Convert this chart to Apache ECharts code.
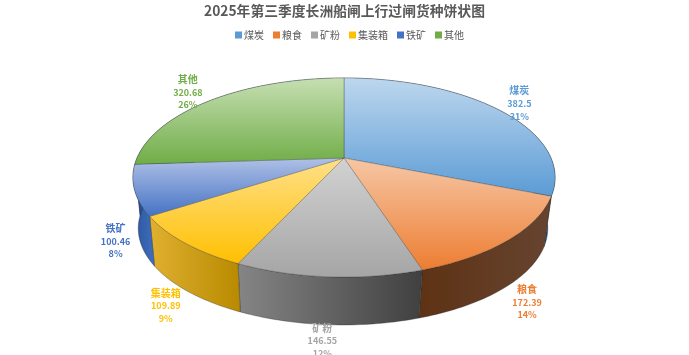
<!DOCTYPE html>
<html>
<head>
<meta charset="utf-8">
<style>html,body{margin:0;padding:0;background:#fff}#main{width:689px;height:355px}</style>
<script src="https://cdn.jsdelivr.net/npm/echarts@6/dist/echarts.min.js"></script>
</head>
<body>
<div id="main"></div>
<script>
const categories = ["煤炭", "粮食", "矿粉", "集装箱", "铁矿", "其他"];
const values = [382.5, 172.39, 146.55, 109.89, 100.46, 320.68];
const percentLabels = ["31%", "14%", "12%", "9%", "8%", "26%"];
const valueLabels = ["382.5", "172.39", "146.55", "109.89", "100.46", "320.68"];

const baseColors = ["#5b9bd5", "#ed7d31", "#a5a5a5", "#ffc000", "#4472c4", "#70ad47"];
const lightColors = ["#bdd7ee", "#f6c7a6", "#d2d2d2", "#ffe08a", "#b0c1e6", "#c6dfb2"];
const wallLeft = ["#2f5f8c", "#5e3214", "#858585", "#e0b030", "#2a5299", "#2a5299"];
const wallRight = ["#1f4e79", "#664430", "#404040", "#b88a00", "#4070c0", "#2a5299"];
const labelOffset = [[21, -6], [18, 63], [-6, 64], [-19, 63], [-19, 51], [-23, -8]];

// fake 3d: the circle goes through a perspective divide, bottom rim is a bit smaller
const cx = 344, cy = 158, R = 207, A = 95.7, K = 0.196, DEPTH = 51.5, SHRINK = 0.97;
const BOTTOM_CX = 343;
const RAD = Math.PI / 180;

function project(deg, bottom) {
  const x = Math.sin(deg * RAD), y = Math.cos(deg * RAD);
  const w = 1 + K * y;
  const px = R * x / w, py = -A * y / w;
  return bottom ? [BOTTOM_CX + SHRINK * px, cy + DEPTH + SHRINK * py] : [cx + px, cy + py];
}

function arc(from, to, bottom) {
  const pts = [];
  for (let d = from; d < to; d += 1) pts.push(project(d, bottom));
  pts.push(project(to, bottom));
  return pts;
}

const total = values.reduce((a, b) => a + b, 0);
const angles = [];
let sum = 0;
for (let i = 0; i < values.length; i++) {
  const start = sum / total * 360;
  sum += values[i];
  angles.push([start, sum / total * 360]);
}

function gradient(x2, y2, c0, c1) {
  return new echarts.graphic.LinearGradient(0, 0, x2, y2, [
    { offset: 0, color: c0 },
    { offset: 1, color: c1 },
  ]);
}

const series = [];

series.push({
  name: "side",
  type: "custom",
  coordinateSystem: "none",
  silent: true,
  z: 2,
  data: angles,
  renderItem: function (params, api) {
    const i = params.dataIndex;
    const from = api.value(0), to = api.value(1);
    const top = arc(from, to, false);
    const bot = arc(from, to, true).reverse();
    return {
      type: "polygon",
      shape: { points: top.concat(bot) },
      style: {
        fill: gradient(1, 0, wallLeft[i], wallRight[i]),
        stroke: "rgba(30,30,30,0.55)",
        lineWidth: 0.6,
      },
    };
  },
});

categories.forEach(function (name, i) {
  series.push({
    name: name,
    type: "custom",
    coordinateSystem: "none",
    z: 3,
    silent: true,
    itemStyle: { color: baseColors[i] },
    data: [angles[i]],
    renderItem: function (params, api) {
      const from = api.value(0), to = api.value(1);
      const pts = [[cx, cy]].concat(arc(from, to, false));
      const mid = project((from + to) / 2, false);
      const lx = mid[0] + labelOffset[i][0], ly = mid[1] + labelOffset[i][1];
      const text = function (str, y, size) {
        return {
          type: "text",
          x: lx,
          y: y,
          z2: 20,
          style: {
            text: str,
            fill: baseColors[i],
            font: "bold " + size + "px 'Noto Sans CJK SC', 'Noto Sans', sans-serif",
            align: "center",
            verticalAlign: "middle",
          },
        };
      };
      return {
        type: "group",
        children: [
          {
            type: "polygon",
            shape: { points: pts },
            style: {
              fill: gradient(0, 1, lightColors[i], baseColors[i]),
              stroke: "rgba(50,50,50,0.5)",
              lineWidth: 0.6,
            },
          },
          text(name, ly - 13, 10),
          text(valueLabels[i], ly, 9),
          text(percentLabels[i], ly + 12.5, 9),
        ],
      };
    },
  });
});

const chart = echarts.init(document.getElementById("main"), null, { renderer: "canvas" });
chart.setOption({
  animation: false,
  backgroundColor: "#fff",
  title: {
    text: "2025年第三季度长洲船闸上行过闸货种饼状图",
    left: "center",
    top: -1,
    textStyle: {
      color: "#595959",
      fontSize: 13.8,
      fontWeight: "bold",
      fontFamily: "'Noto Sans CJK SC', sans-serif",
    },
  },
  legend: {
    data: categories,
    left: 230,
    top: 25,
    icon: "rect",
    itemWidth: 7,
    itemHeight: 7,
    itemGap: 9,
    selectedMode: false,
    textStyle: {
      color: "#595959",
      fontSize: 10,
      fontFamily: "'Noto Sans CJK SC', sans-serif",
      padding: [0, 0, 0, -3],
    },
  },
  series: series,
});
</script>
</body>
</html>
